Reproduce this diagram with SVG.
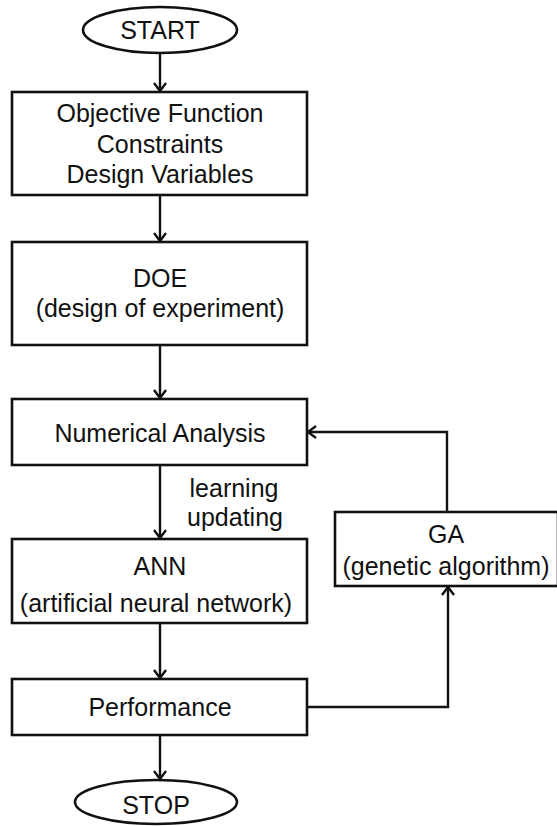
<svg xmlns="http://www.w3.org/2000/svg" width="557" height="826" viewBox="0 0 557 826">
<style>
.box{fill:#fff;stroke:#111;stroke-width:2.6}
.t{font-family:"Liberation Sans",Arial,sans-serif;font-size:25px;fill:#111;text-anchor:middle}
.c{fill:none;stroke:#111;stroke-width:2.4}
</style>
<defs>
<marker id="ah" markerWidth="14" markerHeight="14" refX="11" refY="7" orient="auto" markerUnits="userSpaceOnUse">
<path d="M3,1 L11,7 L3,13" fill="none" stroke="#111" stroke-width="2.4"/>
</marker>
</defs>
<rect width="557" height="826" fill="#fff"/>
<g id="connectors">
<line class="c" x1="160" y1="53" x2="160" y2="91" marker-end="url(#ah)"/>
<line class="c" x1="160" y1="195" x2="160" y2="241" marker-end="url(#ah)"/>
<line class="c" x1="160" y1="345" x2="160" y2="398" marker-end="url(#ah)"/>
<line class="c" x1="160" y1="465" x2="160" y2="538" marker-end="url(#ah)"/>
<line class="c" x1="160" y1="623" x2="160" y2="678" marker-end="url(#ah)"/>
<line class="c" x1="160" y1="735" x2="160" y2="779" marker-end="url(#ah)"/>
<polyline class="c" points="307,707 448,707 448,587" marker-end="url(#ah)"/>
<polyline class="c" points="447,512 447,432 308,432" marker-end="url(#ah)"/>
<text class="t" x="234" y="497">learning</text>
<text class="t" x="235" y="526">updating</text>
</g>
<g id="start">
<ellipse class="box" cx="160" cy="30" rx="77" ry="23"/>
<text class="t" x="160" y="39">START</text>
</g>
<g id="problem">
<rect class="box" x="12" y="92" width="295" height="103"/>
<text class="t" x="160" y="122">Objective Function</text>
<text class="t" x="160" y="153">Constraints</text>
<text class="t" x="160" y="183">Design Variables</text>
</g>
<g id="doe">
<rect class="box" x="12" y="242" width="295" height="103"/>
<text class="t" x="160" y="287">DOE</text>
<text class="t" x="160" y="317">(design of experiment)</text>
</g>
<g id="numerical">
<rect class="box" x="12" y="399" width="295" height="66"/>
<text class="t" x="160" y="442">Numerical Analysis</text>
</g>
<g id="ann">
<rect class="box" x="12" y="539" width="295" height="84"/>
<text class="t" x="160" y="575">ANN</text>
<text class="t" x="156" y="612">(artificial neural network)</text>
</g>
<g id="ga">
<rect class="box" x="335" y="512" width="223" height="74"/>
<text class="t" x="446" y="543">GA</text>
<text class="t" x="446" y="575">(genetic algorithm)</text>
</g>
<g id="performance">
<rect class="box" x="12" y="679" width="295" height="56"/>
<text class="t" x="160" y="716">Performance</text>
</g>
<g id="stop">
<ellipse class="box" cx="156" cy="802" rx="81" ry="22"/>
<text class="t" x="156" y="814">STOP</text>
</g>
</svg>
